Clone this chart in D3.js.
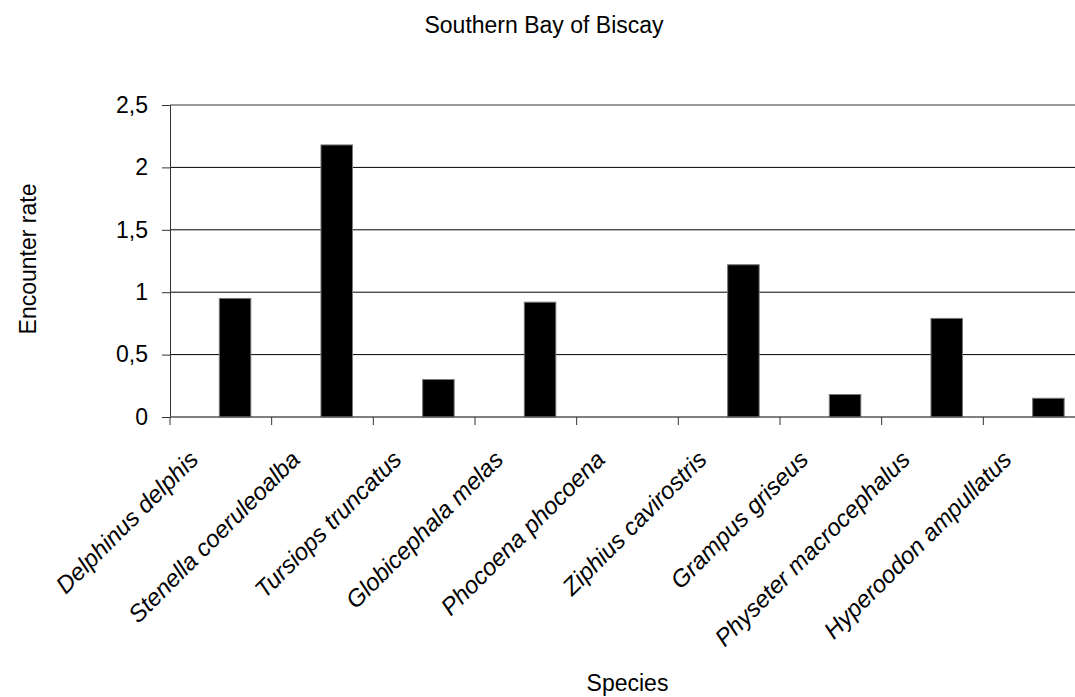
<!DOCTYPE html>
<html lang="en">
<head>
    <meta charset="UTF-8">
    <title>Southern Bay of Biscay</title>
    <script src="https://cdnjs.cloudflare.com/ajax/libs/d3/7.8.2/d3.min.js"></script>
    <style>
        body {
            margin: 0;
            background: #fff;
            font-family: "Liberation Sans", Arial, sans-serif;
        }
        .tick text {
            font-size: 23px;
            fill: #000;
        }
        .x-axis .tick text {
            font-style: italic;
            font-size: 24px;
        }
    </style>
</head>
<body>
    <div id="chart"></div>

    <script>
        // Data
        const species = [
            "Delphinus delphis",
            "Stenella coeruleoalba",
            "Tursiops truncatus",
            "Globicephala melas",
            "Phocoena phocoena",
            "Ziphius cavirostris",
            "Grampus griseus",
            "Physeter macrocephalus",
            "Hyperoodon ampullatus"
        ];
        const encounterRate = [0.95, 2.18, 0.30, 0.92, 0, 1.22, 0.18, 0.79, 0.15];
        const yTicks = [0, 0.5, 1, 1.5, 2, 2.5];

        const width = 1075;
        const height = 697;
        const plotLeft = 170, plotTop = 105, plotRight = 1085, plotBottom = 417;

        const svg = d3.select("#chart")
            .append("svg")
            .attr("width", width)
            .attr("height", height);

        const x = d3.scaleBand()
            .domain(species)
            .range([plotLeft, plotRight])
            .paddingInner(0)
            .paddingOuter(0);

        const y = d3.scaleLinear()
            .domain([0, 2.5])
            .range([plotBottom, plotTop]);

        const fmt = d => String(d).replace(".", ",");

        // gridlines
        svg.append("g")
            .selectAll("line")
            .data(yTicks.filter(d => d > 0 && d < 2.5))
            .enter()
            .append("line")
            .attr("x1", plotLeft)
            .attr("x2", plotRight)
            .attr("y1", d => y(d))
            .attr("y2", d => y(d))
            .attr("stroke", "#000")
            .attr("stroke-width", 1);

        // top border of plot area
        svg.append("line")
            .attr("x1", plotLeft)
            .attr("x2", plotRight)
            .attr("y1", y(2.5))
            .attr("y2", y(2.5))
            .attr("stroke", "#9a9a9a")
            .attr("stroke-width", 2);

        // bars
        const bw = x.bandwidth();
        svg.append("g")
            .selectAll("rect")
            .data(encounterRate)
            .enter()
            .append("rect")
            .attr("x", (d, i) => x(species[i]) + bw * 0.485)
            .attr("width", bw * 0.31)
            .attr("y", d => y(d))
            .attr("height", d => y(0) - y(d))
            .attr("fill", "#000")
            .attr("stroke", "#777")
            .attr("stroke-width", d => d > 0 ? 1 : 0);

        // y axis
        const yAxis = svg.append("g")
            .attr("transform", `translate(${plotLeft},0)`)
            .call(d3.axisLeft(y).tickValues(yTicks).tickFormat(fmt).tickSizeOuter(0).tickSize(8).tickPadding(14));
        yAxis.select(".domain").attr("stroke", "#333");
        yAxis.selectAll(".tick line").attr("stroke", "#333");

        // x axis (ticks at band boundaries)
        const xAxis = svg.append("g")
            .attr("class", "x-axis")
            .attr("transform", `translate(0,${plotBottom})`);
        xAxis.append("line")
            .attr("x1", plotLeft)
            .attr("x2", plotRight)
            .attr("stroke", "#555")
            .attr("stroke-width", 1.5);
        xAxis.selectAll(".bnd")
            .data(species)
            .enter()
            .append("line")
            .attr("class", "bnd")
            .attr("x1", d => x(d))
            .attr("x2", d => x(d))
            .attr("y1", 0)
            .attr("y2", 8)
            .attr("stroke", "#333");
        xAxis.selectAll(".tick")
            .data(species)
            .enter()
            .append("g")
            .attr("class", "tick")
            .attr("transform", d => `translate(${x(d) + bw / 2 - 27},38)`)
            .append("text")
            .attr("text-anchor", "end")
            .attr("dy", "0.35em")
            .attr("transform", "rotate(-45)")
            .text(d => d);

        // titles
        svg.append("text")
            .attr("x", 544)
            .attr("y", 33)
            .attr("text-anchor", "middle")
            .attr("font-size", "23px")
            .text("Southern Bay of Biscay");

        svg.append("text")
            .attr("x", (plotLeft + plotRight) / 2)
            .attr("y", 691)
            .attr("text-anchor", "middle")
            .attr("font-size", "23px")
            .text("Species");

        svg.append("text")
            .attr("transform", "translate(36,259) rotate(-90)")
            .attr("text-anchor", "middle")
            .attr("font-size", "23px")
            .text("Encounter rate");
    </script>
</body>
</html>
